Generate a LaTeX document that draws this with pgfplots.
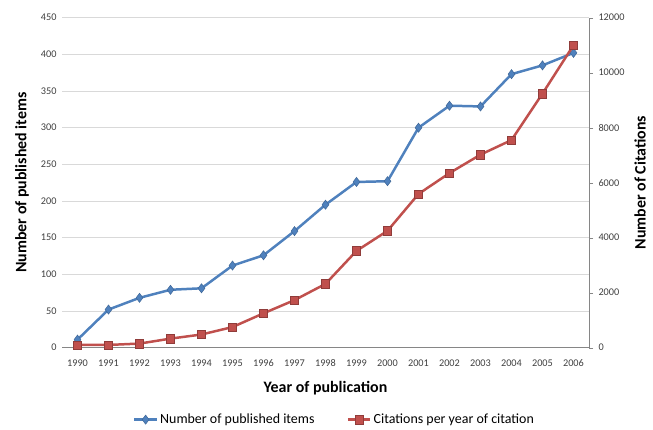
\documentclass[border=0pt]{standalone}
\usepackage{fontspec}
\setmainfont{Carlito}
\usepackage{pgfplots}
\pgfplotsset{compat=1.18}
\definecolor{xlblue}{HTML}{4F81BD}
\definecolor{xlred}{HTML}{C0504D}
\definecolor{gridgray}{HTML}{D9D9D9}
\definecolor{axgray}{HTML}{868686}
\definecolor{ticktext}{HTML}{404040}

\pgfplotstableread{
year items
1990 11
1991 52
1992 68
1993 79
1994 81
1995 112
1996 126
1997 159
1998 195
1999 226
2000 227
2001 300
2002 330
2003 329
2004 373
2005 385
2006 402
}\itemsdata

\pgfplotstableread{
year cites
1990 100
1991 100
1992 150
1993 330
1994 480
1995 750
1996 1250
1997 1730
1998 2320
1999 3520
2000 4250
2001 5590
2002 6350
2003 7020
2004 7550
2005 9240
2006 11000
}\citesdata

\begin{document}
\begin{tikzpicture}
\pgfplotsset{
  common/.style={
    scale only axis,
    width=527bp, height=330bp,
    xmin=1989.5, xmax=2006.5,
    /pgf/number format/assume math mode=true,
    tick label style={font=\fontsize{10.3}{12}\selectfont, text=ticktext},
    label style={font=\fontsize{16}{18}\selectfont\bfseries},
  },
  bluestyle/.style={xlblue, line width=2.5pt, mark=diamond*, mark size=4.6pt,
    mark options={fill=xlblue, draw=xlblue!80!black, line width=0.5pt}},
  redstyle/.style={xlred, line width=2.5pt, mark=square*, mark size=4.2pt,
    mark options={fill=xlred, draw=xlred!75!black, line width=0.5pt}},
}
\begin{axis}[
  common,
  at={(0,0)}, anchor=south west,
  ymin=0, ymax=450, ytick={0,50,...,450},
  xtick={1990,...,2006},
  /pgf/number format/.cd, set thousands separator={}, 1000 sep={},
  /pgfplots/.cd,
  axis x line*=bottom, axis y line*=left,
  y axis line style={draw=none},
  x axis line style={draw=axgray},
  xtick style={draw=none}, ytick style={draw=none},
  xticklabel style={anchor=center, yshift=-16bp, text height=1.5ex, text depth=0.3ex},
  yticklabel style={xshift=-2bp},
  ymajorgrids, grid style={gridgray, line width=0.8pt},
  xlabel={Year of publication},
  ylabel={Number of published items},
  xlabel style={at={(axis description cs:0.5,-0.1212)}, anchor=center},
  ylabel style={at={(axis description cs:-0.0759,0.5)}, anchor=center},
  legend style={at={(axis description cs:0.517,-0.218)}, anchor=center,
    draw=none, fill=none, font=\fontsize{14}{16}\selectfont,
    legend columns=2, /tikz/every even column/.append style={column sep=30bp}},
  legend image code/.code={
    \draw[#1, mark repeat=2, mark phase=2] plot coordinates {(0cm,0cm) (0.4cm,0cm) (0.8cm,0cm)};},
]
\addplot[bluestyle] table[x=year, y=items] {\itemsdata};
\addlegendentry{Number of published items}
\addlegendimage{redstyle}
\addlegendentry{Citations per year of citation}
\end{axis}
\begin{axis}[
  common,
  at={(0,0)}, anchor=south west,
  ymin=0, ymax=12000, ytick={0,2000,...,12000},
  scaled y ticks=false,
  /pgf/number format/.cd, set thousands separator={}, 1000 sep={}, fixed,
  /pgfplots/.cd,
  axis y line*=right, axis x line=none,
  y axis line style={draw=axgray},
  ytick style={draw=axgray}, tick align=outside, major tick length=4bp,
  yticklabel style={xshift=2bp},
  ylabel={Number of Citations},
  ylabel style={at={(axis description cs:1.0968,0.5)}, anchor=center},
]
\addplot[redstyle] table[x=year, y=cites] {\citesdata};
\end{axis}
\useasboundingbox (-62bp,-80.3bp) rectangle (591bp,347.7bp);
\end{tikzpicture}
\end{document}
